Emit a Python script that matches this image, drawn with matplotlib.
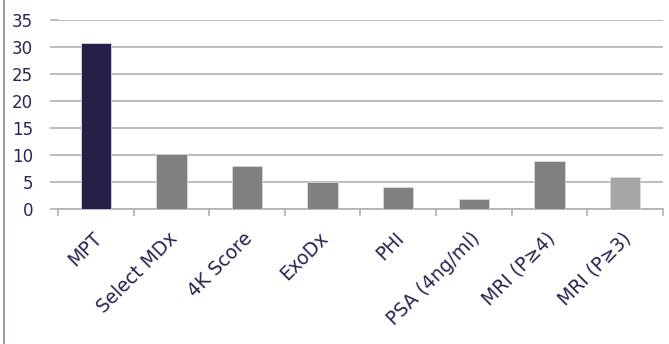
"""Bar chart: detection rate by test."""

import matplotlib
matplotlib.use("Agg")
import matplotlib.pyplot as plt
from matplotlib.lines import Line2D

categories = ["MPT", "Select MDx", "4K Score", "ExoDx", "PHI",
              "PSA (4ng/ml)", "MRI (P\u22654)", "MRI (P\u22653)"]
values = [30.7, 10.1, 7.9, 5.0, 4.0, 1.85, 8.9, 5.9]
bar_colors = ["#27214a", "#808080", "#808080", "#808080", "#808080",
              "#808080", "#808080", "#a6a6a6"]
yticks = [0, 5, 10, 15, 20, 25, 30, 35]

TEXT_COLOR = "#2e2350"
GRID_COLOR = "#b0b0b4"

fig = plt.figure(figsize=(6.69, 3.44), dpi=100)
ax = fig.add_axes([0.0867, 0.3924, 0.904, 0.5495])

x = range(len(categories))
ax.bar(x, values, width=0.4, color=bar_colors, edgecolor="#d9d9d9",
       linewidth=0.6, zorder=3)

ax.set_xlim(-0.5, len(categories) - 0.5)
ax.set_ylim(0, 35)
ax.set_yticks(yticks)
ax.yaxis.grid(True, color=GRID_COLOR, linewidth=1.2, zorder=0)

# category boundary ticks, Excel style
ax.set_xticks([i - 0.5 for i in range(len(categories) + 1)])
ax.set_xticklabels([])
ax.tick_params(axis="x", length=5, width=1.2, color=GRID_COLOR, direction="out")
ax.tick_params(axis="y", length=6, width=1.2, color=GRID_COLOR,
               labelsize=12, labelcolor=TEXT_COLOR, pad=12)

# rotated category labels
for i, lab in enumerate(categories):
    ax.text(i - 0.05, -3.6, lab, rotation=45, ha="right", va="top",
            rotation_mode="anchor", fontsize=13.5, color=TEXT_COLOR)

for side in ["left", "right", "top"]:
    ax.spines[side].set_visible(False)
ax.spines["bottom"].set_color(GRID_COLOR)
ax.spines["bottom"].set_linewidth(1.2)

# left border of the frame
fig.add_artist(Line2D([0.006, 0.006], [0, 1], transform=fig.transFigure,
                      color="#8c86a0", linewidth=1.2))

fig.savefig("out.png", dpi=100, facecolor="white")
